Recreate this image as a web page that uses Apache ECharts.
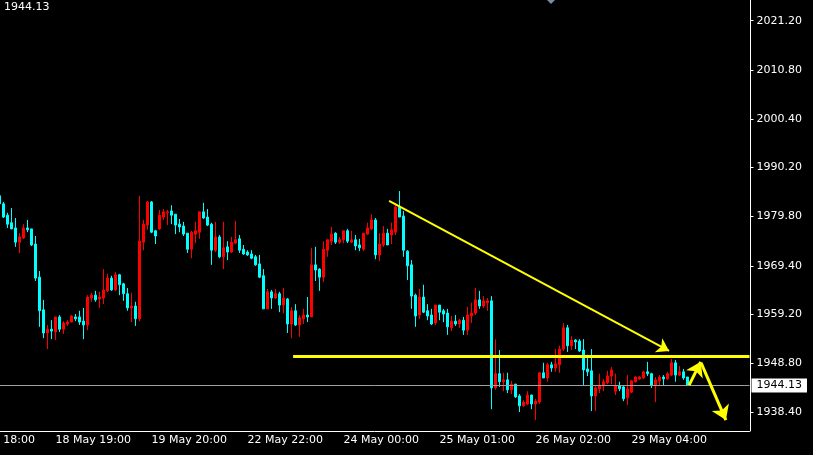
<!DOCTYPE html>
<html><head><meta charset="utf-8">
<script src="https://cdn.jsdelivr.net/npm/echarts@6/dist/echarts.min.js"></script>
<style>html,body{margin:0;padding:0;background:#000;}#c{width:813px;height:455px;}</style>
</head><body><div id="c"></div>
<script>
// ---- data (XAUUSD H1) ----
const tickLabels = ["17 May 18:00","18 May 19:00","19 May 20:00","22 May 22:00","24 May 00:00","25 May 01:00","26 May 02:00","29 May 04:00"];
const yTicks = [2021.2, 2010.8, 2000.4, 1990.2, 1979.8, 1969.4, 1959.2, 1948.8, 1938.4];
const currentPrice = 1944.13;

const opens = [
1984.2,1982.5,1980.1,1978.5,1977.4,1974.4,1975.3,1977.4,1977.2,1974.0,
1967.0,1960.1,1955.2,1956.0,1955.4,1958.6,1956.0,1957.1,1957.5,1958.6,
1958.6,1957.7,1956.9,1962.6,1963.2,1962.4,1962.6,1964.1,1966.8,1964.3,
1967.5,1965.6,1963.5,1960.5,1960.9,1958.2,1974.4,1978.0,1982.9,1976.8,
1977.2,1979.7,1980.6,1981.0,1980.3,1978.2,1977.8,1976.3,1972.9,1976.1,
1976.5,1980.8,1979.7,1978.2,1972.7,1975.5,1971.3,1973.4,1972.3,1974.2,
1975.1,1972.9,1972.3,1971.9,1971.3,1969.8,1967.3,1960.3,1963.9,1962.6,
1963.5,1961.1,1962.4,1957.1,1959.9,1956.9,1958.2,1959.0,1958.6,1969.6,
1968.7,1967.0,1972.7,1974.6,1976.3,1974.4,1974.9,1976.8,1974.4,1974.9,
1973.8,1972.9,1976.1,1977.2,1979.1,1971.7,1973.8,1976.3,1975.9,1976.5,
1981.8,1979.9,1972.5,1969.6,1963.2,1959.0,1962.8,1959.9,1959.0,1957.3,
1961.1,1959.9,1959.4,1956.3,1957.7,1957.1,1957.9,1955.8,1958.8,1959.4,
1962.2,1960.9,1961.6,1962.0,1943.6,1946.6,1944.9,1945.3,1943.2,1944.4,
1941.9,1939.8,1940.2,1942.1,1940.2,1940.6,1946.8,1945.7,1948.5,1947.8,
1948.5,1951.8,1956.3,1952.5,1953.7,1953.5,1951.6,1947.6,1947.2,1941.9,
1943.4,1944.0,1944.7,1946.1,1942.9,1944.0,1943.8,1941.5,1942.7,1944.9,
1945.5,1945.7,1947.0,1946.6,1944.2,1945.1,1945.9,1945.5,1946.3,1948.9,
1946.3,1947.0,1945.9];
const closes = [
1982.5,1979.7,1978.2,1977.2,1974.4,1975.5,1977.4,1977.0,1973.8,1966.8,
1959.9,1955.2,1956.0,1955.6,1958.6,1956.0,1957.3,1957.5,1958.8,1958.2,
1957.5,1956.9,1962.8,1963.2,1962.2,1962.8,1964.3,1966.8,1964.3,1967.5,
1965.4,1963.5,1960.5,1960.9,1958.2,1974.6,1978.2,1982.9,1976.5,1975.7,
1980.1,1980.8,1980.8,1980.1,1978.0,1977.6,1976.1,1972.9,1976.5,1976.8,
1980.8,1979.5,1978.0,1972.7,1975.5,1971.3,1973.2,1972.3,1974.4,1974.9,
1972.7,1971.9,1971.7,1971.0,1969.6,1967.0,1960.3,1963.9,1962.6,1963.5,
1961.1,1962.6,1957.1,1959.9,1956.9,1958.4,1959.0,1958.6,1969.6,1968.5,
1967.0,1972.9,1974.9,1976.1,1974.4,1974.9,1976.8,1974.6,1974.9,1973.6,
1973.2,1976.3,1977.4,1979.1,1971.7,1974.0,1976.3,1973.8,1977.0,1981.8,
1979.7,1972.7,1969.4,1963.0,1958.8,1962.8,1959.6,1958.8,1957.1,1961.1,
1959.6,1959.2,1956.5,1957.7,1957.1,1957.9,1955.8,1959.0,1959.4,1962.2,
1960.9,1962.0,1962.0,1943.6,1946.6,1944.9,1945.3,1943.2,1944.4,1941.7,
1939.8,1940.6,1942.1,1940.2,1940.8,1946.8,1945.7,1948.5,1947.8,1948.7,
1951.8,1956.3,1952.5,1953.7,1953.3,1951.4,1947.4,1947.0,1941.9,1943.6,
1944.2,1944.9,1946.1,1947.4,1944.0,1943.4,1941.3,1943.4,1945.1,1945.9,
1945.9,1947.0,1946.6,1944.2,1945.3,1945.9,1945.5,1946.6,1948.9,1946.3,
1947.0,1945.7,1944.13];
const lows = [
1982.2,1979.5,1977.4,1977.2,1973.4,1972.1,1975.1,1976.5,1973.6,1966.2,
1956.5,1954.1,1951.8,1953.9,1953.7,1955.4,1955.0,1956.7,1957.5,1957.7,
1956.9,1953.9,1955.8,1961.8,1961.8,1960.5,1961.3,1963.9,1964.1,1964.1,
1963.2,1962.0,1959.9,1957.5,1956.7,1957.7,1972.7,1977.0,1976.3,1974.0,
1977.0,1979.1,1978.0,1978.2,1976.1,1976.5,1975.7,1972.1,1971.0,1974.2,
1975.1,1979.3,1977.8,1969.6,1972.3,1971.0,1968.7,1970.6,1972.1,1974.0,
1972.1,1971.7,1971.5,1970.8,1969.4,1966.8,1960.3,1960.3,1960.3,1962.4,
1959.6,1959.4,1955.2,1954.1,1956.7,1954.4,1957.1,1957.5,1958.6,1966.2,
1964.1,1966.0,1971.3,1973.8,1974.0,1974.0,1974.2,1974.2,1974.2,1972.7,
1972.5,1972.5,1975.9,1977.0,1970.8,1970.4,1973.4,1973.8,1974.0,1975.9,
1979.7,1971.3,1966.4,1960.3,1956.5,1958.2,1959.4,1957.9,1956.9,1956.9,
1957.9,1957.5,1954.8,1955.6,1956.7,1956.3,1954.8,1954.8,1957.3,1959.0,
1960.3,1960.5,1959.9,1939.1,1943.2,1943.8,1942.9,1942.5,1942.3,1941.5,
1938.5,1939.6,1940.0,1939.1,1936.8,1940.2,1945.7,1944.9,1947.0,1947.0,
1946.8,1951.4,1951.2,1951.6,1951.8,1951.2,1944.2,1946.1,1938.7,1938.7,
1942.5,1942.9,1944.4,1944.4,1942.1,1942.9,1940.8,1940.0,1942.5,1944.7,
1945.3,1945.5,1946.1,1943.6,1940.6,1944.2,1944.2,1945.3,1946.1,1944.9,
1946.1,1945.3,1944.13];
const highs = [
1984.6,1982.9,1980.6,1981.6,1979.5,1976.3,1978.2,1979.1,1977.2,1975.7,
1968.3,1962.2,1956.9,1957.9,1958.6,1959.0,1957.7,1957.9,1959.0,1959.2,
1959.9,1960.5,1963.2,1963.7,1964.1,1963.9,1968.7,1967.7,1967.3,1968.1,
1967.7,1965.8,1964.7,1963.7,1961.8,1984.2,1979.1,1983.1,1983.1,1977.0,
1981.2,1981.4,1981.2,1982.2,1980.3,1979.3,1978.7,1976.3,1976.8,1978.7,
1980.8,1982.7,1981.4,1978.5,1978.7,1975.9,1978.7,1974.6,1975.5,1978.9,
1975.9,1973.8,1972.7,1972.7,1971.7,1971.7,1968.7,1964.5,1964.3,1964.5,
1963.9,1964.7,1962.6,1960.7,1961.3,1959.0,1960.3,1962.8,1973.2,1973.4,
1968.9,1974.6,1974.9,1977.6,1976.5,1975.5,1976.8,1977.2,1976.8,1975.9,
1975.1,1976.3,1978.5,1980.3,1979.5,1976.3,1977.8,1977.2,1978.5,1982.5,
1985.2,1981.0,1972.7,1970.6,1963.5,1964.5,1965.4,1961.3,1960.3,1961.1,
1961.1,1960.3,1960.3,1958.8,1959.0,1958.2,1958.6,1960.7,1961.6,1964.7,
1964.1,1963.0,1962.6,1963.0,1953.9,1951.6,1946.8,1946.8,1945.1,1944.4,
1942.3,1941.0,1942.9,1942.1,1941.3,1946.8,1948.9,1948.9,1949.1,1951.8,
1952.5,1957.3,1956.9,1954.6,1953.9,1953.9,1953.9,1950.6,1951.8,1944.2,
1946.6,1945.5,1947.2,1948.0,1946.6,1944.9,1944.2,1946.3,1945.3,1946.1,
1946.1,1947.2,1949.1,1946.8,1945.9,1946.3,1946.3,1947.0,1949.7,1949.5,
1948.2,1947.6,1945.9];

// drawn objects: [candle index, price]
const levelLine = [[73.4, 1950.3], [187.5, 1950.3]];
const trendLine = [[97.4, 1983.1], [167.4, 1951.4]];
const upArrow = [[172.4, 1944.2], [175.3, 1949.1]];
const downArrow = [[175.4, 1948.9], [181.6, 1936.8]];

// ---- layout ----
const PAD = 10;          // empty bar slots before first candle (first label bar)
const BARS = 198;        // bar slots across the plot
const LABEL_EVERY = 24;
const Y_MIN = 1934.49, Y_MAX = 2025.57;
const font = 'DejaVu Sans';

const candleData = [];
for (let i = 0; i < PAD; i++) candleData.push(['-', '-', '-', '-']);
opens.forEach((o, i) => candleData.push([o, closes[i], lows[i], highs[i]]));
const cats = Array.from({length: BARS}, (_, i) => String(i));
const toXY = p => [p[0] + PAD, p[1]];
const lastLabelIdx = (tickLabels.length - 1) * LABEL_EVERY;
const showIdx = i => i % LABEL_EVERY === 0 && i <= lastLabelIdx;

const chart = echarts.init(document.getElementById('c'), null, {renderer: 'canvas'});
chart.setOption({
  backgroundColor: '#000',
  animation: false,
  title: {text: currentPrice.toFixed(2), left: 4, top: 2, padding: 0,
    textStyle: {color: '#fff', fontSize: 11, fontWeight: 'normal', fontFamily: font}},
  graphic: [{type: 'polygon', shape: {points: [[547, 0], [555, 0], [551, 4]]}, style: {fill: '#7b8aa0'}}],
  grid: {left: -42.5, right: 63.5, top: 0, bottom: 24, containLabel: false, outerBoundsMode: 'none'},
  xAxis: [{
    type: 'category', data: cats, boundaryGap: true,
    axisLine: {onZero: false, lineStyle: {color: '#fff', width: 1}},
    axisTick: {alignWithLabel: true, interval: (i) => showIdx(i), length: 3, lineStyle: {color: '#fff'}},
    axisLabel: {interval: (i) => showIdx(i), formatter: (v, i) => tickLabels[i / LABEL_EVERY],
      align: 'left', color: '#fff', fontSize: 11, fontFamily: font, margin: 4},
    splitLine: {show: false}
  }, {
    type: 'value', min: -0.5, max: BARS - 0.5, show: false, axisLine: {onZero: false}
  }],
  yAxis: {
    type: 'value', position: 'right', offset: 1, min: Y_MIN, max: Y_MAX,
    axisLine: {show: true, onZero: false, lineStyle: {color: '#fff'}},
    axisTick: {show: true, customValues: yTicks, length: 3, lineStyle: {color: '#fff'}},
    axisLabel: {customValues: yTicks, formatter: v => v.toFixed(2), color: '#fff',
      fontSize: 11, fontFamily: font, margin: 6},
    splitLine: {show: false}
  },
  series: [{
    type: 'candlestick', xAxisIndex: 0, yAxisIndex: 0, data: candleData,
    barWidth: 2,
    itemStyle: {color: '#ff0000', color0: '#00ffff', borderColor: '#ff0000', borderColor0: '#00ffff', borderWidth: 1},
    markLine: {
      silent: true, animation: false, symbol: ['none', 'none'],
      data: [{yAxis: currentPrice}],
      lineStyle: {color: '#a0a0a0', width: 1, type: 'solid'},
      label: {show: true, position: 'end', distance: 2, formatter: () => currentPrice.toFixed(2),
        color: '#000', backgroundColor: '#fff', padding: [2, 5, 1, 5], fontSize: 11, fontFamily: font},
      emphasis: {disabled: true}
    }
  }, {
    type: 'lines', coordinateSystem: 'cartesian2d', xAxisIndex: 1, yAxisIndex: 0, z: 5, silent: true,
    symbol: ['none', 'none'],
    lineStyle: {color: '#ffff00', width: 3, opacity: 1},
    data: [{coords: levelLine.map(toXY)}]
  }, {
    type: 'lines', coordinateSystem: 'cartesian2d', xAxisIndex: 1, yAxisIndex: 0, z: 5, silent: true,
    symbol: ['none', 'arrow'], symbolSize: 12,
    lineStyle: {color: '#ffff00', width: 2, opacity: 1},
    data: [{coords: trendLine.map(toXY)}]
  }, {
    type: 'lines', coordinateSystem: 'cartesian2d', xAxisIndex: 1, yAxisIndex: 0, z: 5, silent: true,
    symbol: ['none', 'arrow'], symbolSize: 14,
    lineStyle: {color: '#ffff00', width: 3, opacity: 1},
    data: [{coords: upArrow.map(toXY)}, {coords: downArrow.map(toXY)}]
  }]
});
</script>
</body></html>
